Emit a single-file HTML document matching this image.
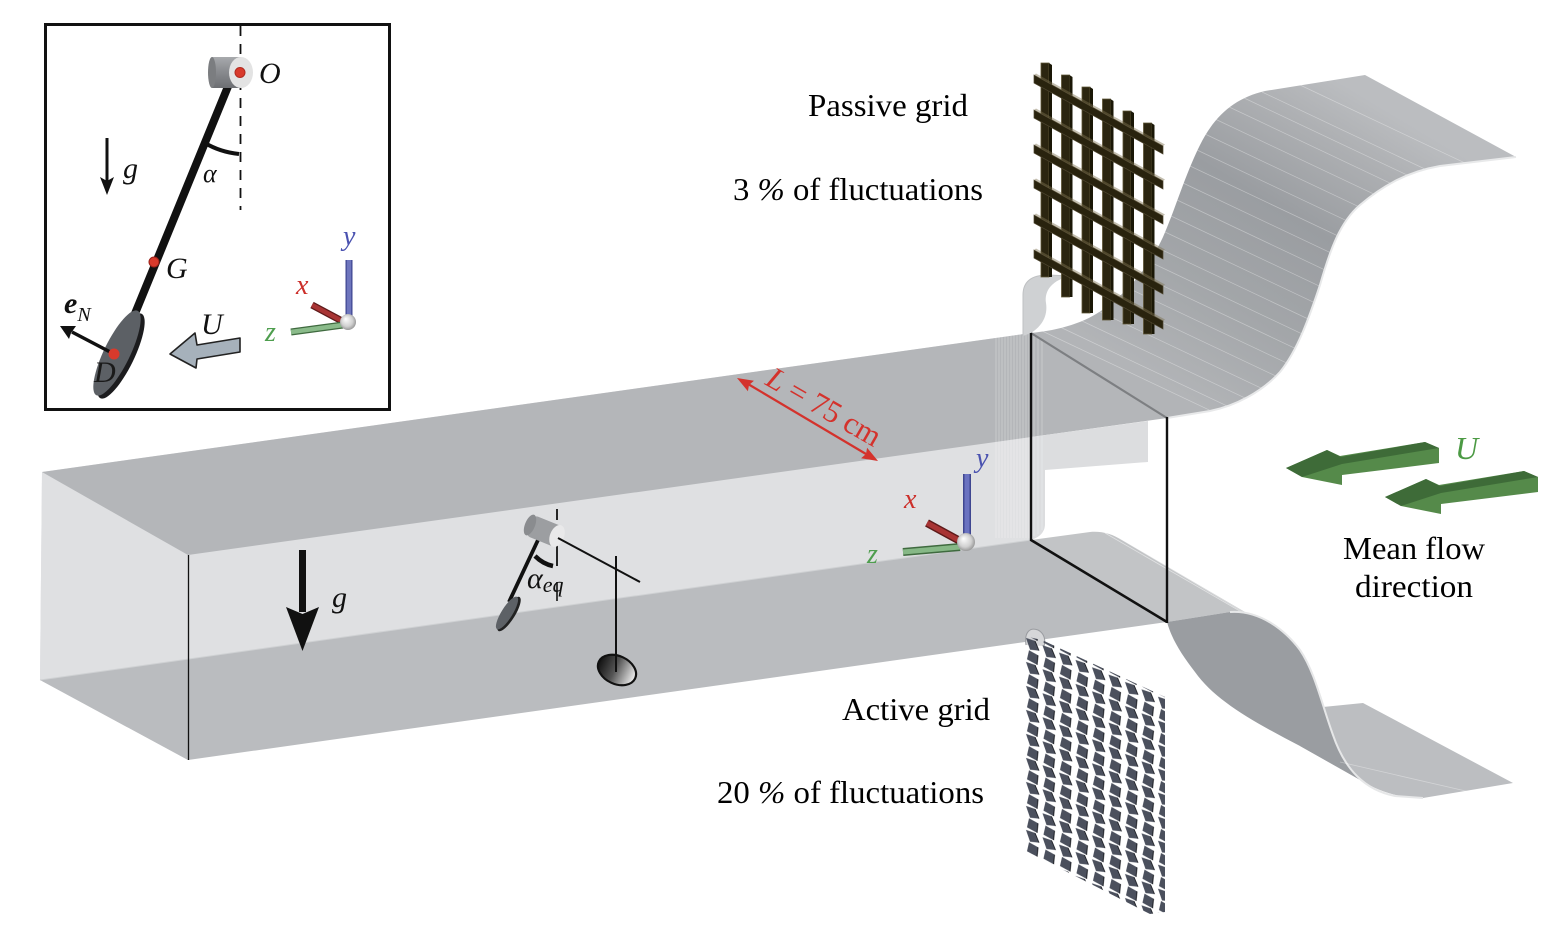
<!DOCTYPE html>
<html><head><meta charset="utf-8">
<style>
html,body{margin:0;padding:0;background:#fff;}
svg{display:block;}
text{font-family:"Liberation Serif",serif;}
.it{font-style:italic;}
</style></head><body>
<svg width="1563" height="944" viewBox="0 0 1563 944" xmlns="http://www.w3.org/2000/svg">
<defs>
<linearGradient id="sheetTop" gradientUnits="userSpaceOnUse" x1="1190" y1="400" x2="1370" y2="100">
<stop offset="0" stop-color="#b2b4b7"/>
<stop offset="0.3" stop-color="#a3a6a9"/>
<stop offset="0.6" stop-color="#9a9da1"/>
<stop offset="0.85" stop-color="#aeb0b3"/>
<stop offset="1" stop-color="#bbbdc0"/>
</linearGradient>
<radialGradient id="sph" cx="0.5" cy="0.5" r="0.6" fx="0.35" fy="0.3">
<stop offset="0" stop-color="#ffffff"/>
<stop offset="0.6" stop-color="#d0d0d0"/>
<stop offset="1" stop-color="#808080"/>
</radialGradient>
<linearGradient id="diskG" x1="0" y1="0" x2="1" y2="0">
<stop offset="0" stop-color="#111"/>
<stop offset="0.45" stop-color="#555"/>
<stop offset="1" stop-color="#f2f2f2"/>
</linearGradient>
<linearGradient id="cylG" x1="0" y1="0" x2="0" y2="1">
<stop offset="0" stop-color="#a8aaad"/>
<stop offset="0.4" stop-color="#8d8f93"/>
<stop offset="1" stop-color="#6c6e72"/>
</linearGradient>
<clipPath id="sheetClip">
<path d="M1031,333 C1060,330 1085,323 1105,308 C1130,290 1150,265 1163,237 C1175,210 1185,175 1200,145 C1215,115 1235,98 1265,91 L1365,75 L1516,157 L1440,166 C1405,172 1380,188 1360,205 C1340,222 1330,250 1320,285 C1310,315 1298,350 1280,372 C1262,392 1235,406 1210,411 L1167,418 Z"/>
</clipPath>
<pattern id="active" patternUnits="userSpaceOnUse" width="16.5" height="24" patternTransform="translate(1024,636) skewY(24)">
<polygon points="2,1 11,0 15,8 6,11" fill="#4b505d"/>
<polygon points="5,12 14,13 13,23 3,22" fill="#4b505d"/>
<line x1="11" y1="0" x2="15" y2="8" stroke="#1c1e24" stroke-width="1"/>
<line x1="14" y1="13" x2="13" y2="23" stroke="#1c1e24" stroke-width="1"/>
</pattern>
</defs>

<!-- ===== Main test section ===== -->
<polygon points="42,472 1031,333 1031,540 40,680" fill="#dfe0e2"/>
<polygon points="42,472 188,555 188,760 40,680" fill="#dfe0e2"/>
<polygon points="40,680 1031,540 1167,622 188,760" fill="#babcbf"/>
<line x1="40" y1="680" x2="1031" y2="540" stroke="#cfd1d3" stroke-width="1"/>
<polygon points="42,472 1031,333 1167,418 188,555" fill="#b4b6b9"/>
<line x1="188.5" y1="555" x2="188.5" y2="760" stroke="#111" stroke-width="1.3"/>

<path d="M1031,437 L1148,421 L1148,462 L1045,470 L1045,524 C1045,532 1040,537 1031,540 Z" fill="#dcdddf"/>
<g stroke="#ffffff" stroke-opacity="0.35" stroke-width="0.8">
<line x1="996" y1="338" x2="996" y2="538"/><line x1="999" y1="337" x2="999" y2="538"/>
<line x1="1002" y1="337" x2="1002" y2="538"/><line x1="1005" y1="336" x2="1005" y2="538"/>
<line x1="1008" y1="336" x2="1008" y2="538"/><line x1="1011" y1="335" x2="1011" y2="538"/>
<line x1="1014" y1="335" x2="1014" y2="538"/><line x1="1017" y1="335" x2="1017" y2="538"/>
<line x1="1020" y1="334" x2="1020" y2="538"/><line x1="1023" y1="334" x2="1023" y2="538"/>
<line x1="1026" y1="334" x2="1026" y2="538"/><line x1="1029" y1="333" x2="1029" y2="538"/>
<line x1="1034" y1="335" x2="1034" y2="536"/><line x1="1038" y1="336" x2="1038" y2="534"/>
<line x1="1042" y1="337" x2="1042" y2="530"/>
</g>

<path d="M1023,336 L1023,295 C1023,281 1032,275 1048,275 L1070,276 C1053,280 1044,290 1046,303 C1048,316 1042,326 1031,333 Z" fill="#cfd1d3"/>
<path d="M1023,336 L1023,295 C1023,281 1032,275 1048,275 L1070,276" fill="none" stroke="#bfc1c3" stroke-width="1"/>

<!-- ===== Top contraction sheet ===== -->
<path d="M1031,333 C1060,330 1085,323 1105,308 C1130,290 1150,265 1163,237 C1175,210 1185,175 1200,145 C1215,115 1235,98 1265,91 L1365,75 L1516,157 L1440,166 C1405,172 1380,188 1360,205 C1340,222 1330,250 1320,285 C1310,315 1298,350 1280,372 C1262,392 1235,406 1210,411 L1167,418 Z" fill="url(#sheetTop)"/>
<g clip-path="url(#sheetClip)" stroke="#ffffff" stroke-opacity="0.35" stroke-width="0.7">
<line x1="1040" y1="330" x2="1260" y2="434"/>
<line x1="1060" y1="327" x2="1280" y2="431"/>
<line x1="1080" y1="320" x2="1300" y2="424"/>
<line x1="1098" y1="311" x2="1318" y2="415"/>
<line x1="1115" y1="300" x2="1335" y2="404"/>
<line x1="1128" y1="288" x2="1348" y2="392"/>
<line x1="1140" y1="275" x2="1360" y2="379"/>
<line x1="1150" y1="262" x2="1370" y2="366"/>
<line x1="1158" y1="248" x2="1378" y2="352"/>
<line x1="1165" y1="232" x2="1385" y2="336"/>
<line x1="1171" y1="216" x2="1391" y2="320"/>
<line x1="1177" y1="200" x2="1397" y2="304"/>
<line x1="1183" y1="183" x2="1403" y2="287"/>
<line x1="1190" y1="166" x2="1410" y2="270"/>
<line x1="1197" y1="150" x2="1417" y2="254"/>
<line x1="1205" y1="134" x2="1425" y2="238"/>
<line x1="1215" y1="119" x2="1435" y2="223"/>
<line x1="1227" y1="106" x2="1447" y2="210"/>
<line x1="1242" y1="97" x2="1462" y2="201"/>
<line x1="1262" y1="92" x2="1482" y2="196"/>
<line x1="1300" y1="85" x2="1520" y2="189"/>
</g>
<path d="M1167,418 L1210,411 C1235,406 1262,392 1280,372 C1298,350 1310,315 1320,285 C1330,250 1340,222 1360,205 C1380,188 1405,172 1440,166 L1516,157" fill="none" stroke="#e8e9ea" stroke-width="2"/>
<line x1="1031" y1="333" x2="1167" y2="418" stroke="#7d7f82" stroke-width="2.2"/>

<!-- ===== Bottom contraction sheet ===== -->
<path d="M1031,540 L1090,532 C1102,531 1112,534 1122,540 L1262,622 L1230,612 L1167,622 Z" fill="#c2c4c6"/>
<line x1="1105" y1="533" x2="1245" y2="614" stroke="#ffffff" stroke-opacity="0.5" stroke-width="0.8"/>
<line x1="1112" y1="534" x2="1252" y2="617" stroke="#ffffff" stroke-opacity="0.4" stroke-width="0.8"/>
<path d="M1323,707 L1363,703 L1513,783 L1423,798 C1400,798 1380,792 1362,781 L1300,746 C1320,735 1325,720 1323,707 Z" fill="#bcbec1"/>
<path d="M1167,622 L1230,612 C1260,610 1285,630 1300,650 C1315,672 1322,705 1333,735 C1340,755 1350,770 1362,781 L1300,746 C1250,720 1215,700 1195,672 C1182,655 1172,640 1167,622 Z" fill="#9a9da1"/>
<path d="M1230,612 C1260,610 1285,630 1300,650 C1315,672 1322,705 1333,735 C1345,770 1365,790 1395,796 L1423,798" fill="none" stroke="#e6e7e8" stroke-width="2"/>
<line x1="1340" y1="762" x2="1470" y2="792" stroke="#ffffff" stroke-opacity="0.35" stroke-width="0.8"/>

<!-- ===== Frame ===== -->
<line x1="1031" y1="333" x2="1031" y2="541" stroke="#111" stroke-width="2.4"/>
<line x1="1031" y1="540" x2="1167" y2="622" stroke="#111" stroke-width="2.6"/>
<line x1="1167" y1="417" x2="1167" y2="623" stroke="#111" stroke-width="2.4"/>

<!-- ===== Passive grid ===== -->
<g stroke="#5e5536" stroke-width="0.8">
<polygon points="1041,63 1049,63 1049,277 1041,277" fill="#2b2510"/>
<polygon points="1061.5,75 1069.5,75 1069.5,297 1061.5,297" fill="#2b2510"/>
<polygon points="1082,87 1090,87 1090,313 1082,313" fill="#2b2510"/>
<polygon points="1102.5,99 1110.5,99 1110.5,320 1102.5,320" fill="#2b2510"/>
<polygon points="1123,111 1131,111 1131,324 1123,324" fill="#2b2510"/>
<polygon points="1143.5,123 1151.5,123 1151.5,334 1143.5,334" fill="#2b2510"/>
</g>
<g fill="#1a1706">
<polygon points="1049,63 1052,65 1052,277 1049,277"/>
<polygon points="1069.5,75 1072.5,77 1072.5,297 1069.5,297"/>
<polygon points="1090,87 1093,89 1093,313 1090,313"/>
<polygon points="1110.5,99 1113.5,101 1113.5,320 1110.5,320"/>
<polygon points="1131,111 1134,113 1134,324 1131,324"/>
<polygon points="1151.5,123 1154.5,125 1154.5,334 1151.5,334"/>
</g>
<g stroke="#4e4630" stroke-width="0.7" fill="#29230e">
<polygon points="1034,75 1163,146 1163,154 1034,83"/>
<polygon points="1034,110 1163,181 1163,189 1034,118"/>
<polygon points="1034,145 1163,216 1163,224 1034,153"/>
<polygon points="1034,180 1163,251 1163,259 1034,188"/>
<polygon points="1034,215 1163,286 1163,294 1034,223"/>
<polygon points="1034,250 1163,321 1163,329 1034,258"/>
</g>
<g fill="#7c7050" fill-opacity="0.45">
<polygon points="1034,75 1036,73.5 1165,144.5 1163,146"/>
<polygon points="1034,110 1036,108.5 1165,179.5 1163,181"/>
<polygon points="1034,145 1036,143.5 1165,214.5 1163,216"/>
<polygon points="1034,180 1036,178.5 1165,249.5 1163,251"/>
<polygon points="1034,215 1036,213.5 1165,284.5 1163,286"/>
<polygon points="1034,250 1036,248.5 1165,319.5 1163,321"/>
</g>

<!-- ===== Active grid ===== -->
<path d="M1026,645 C1024,632 1030,627 1038,630 C1044,633 1046,640 1044,646" fill="#d6d7d9" stroke="#9a9ca0" stroke-width="1"/>
<polygon points="1024,636 1042,640 1165,697 1165,912 1150,914 1024,850" fill="url(#active)"/>

<!-- ===== Green flow arrows ===== -->
<g>
<polygon points="1286,468 1327,450 1340,456 1425,442 1439,448 1439,463 1342,475 1342,485 1302,477" fill="#558a4a"/>
<polygon points="1286,468 1327,450 1341,457 1425,442 1439,448 1342,464 1302,477" fill="#3e6b38"/>
</g>
<g transform="translate(99,29)">
<polygon points="1286,468 1327,450 1340,456 1425,442 1439,448 1439,463 1342,475 1342,485 1302,477" fill="#558a4a"/>
<polygon points="1286,468 1327,450 1341,457 1425,442 1439,448 1342,464 1302,477" fill="#3e6b38"/>
</g>
<text x="1455" y="459" font-size="32" class="it" fill="#4c9a44">U</text>

<!-- ===== Texts ===== -->
<text x="808" y="116" font-size="32" fill="#000" textLength="160" lengthAdjust="spacingAndGlyphs">Passive grid</text>
<text x="733" y="200" font-size="32" fill="#000" textLength="250" lengthAdjust="spacingAndGlyphs">3 <tspan class="it">%</tspan> of fluctuations</text>
<text x="842" y="720" font-size="32" fill="#000" textLength="148" lengthAdjust="spacingAndGlyphs">Active grid</text>
<text x="717" y="803" font-size="32" fill="#000" textLength="267" lengthAdjust="spacingAndGlyphs">20 <tspan class="it">%</tspan> of fluctuations</text>
<text x="1343" y="559" font-size="32" fill="#000" textLength="142" lengthAdjust="spacingAndGlyphs">Mean flow</text>
<text x="1355" y="597" font-size="32" fill="#000" textLength="118" lengthAdjust="spacingAndGlyphs">direction</text>

<!-- ===== L = 75 cm ===== -->
<line x1="748" y1="384" x2="866" y2="454" stroke="#d4322c" stroke-width="2.2"/>
<polygon points="737,378 753.9,380.8 749,385 747.9,391.2" fill="#d4322c"/>
<polygon points="878,461 861.1,458.2 866,454 867.1,447.8" fill="#d4322c"/>
<text x="764" y="384" font-size="31" fill="#d4322c" transform="rotate(30 764 384)" class="it">L<tspan font-style="normal"> = 75 cm</tspan></text>

<!-- ===== Main axes ===== -->
<line x1="967" y1="474" x2="967" y2="538" stroke="#3f4690" stroke-width="8"/>
<line x1="967" y1="474" x2="967" y2="538" stroke="#6a72c0" stroke-width="5"/>
<line x1="927" y1="523" x2="960" y2="541" stroke="#5e1a1a" stroke-width="8"/>
<line x1="927" y1="523" x2="960" y2="541" stroke="#a83434" stroke-width="5"/>
<line x1="903" y1="552" x2="960" y2="547" stroke="#3f6a3f" stroke-width="8"/>
<line x1="903" y1="552" x2="960" y2="547" stroke="#86b886" stroke-width="5"/>
<circle cx="966" cy="542" r="9" fill="url(#sph)"/>
<text x="976" y="467" font-size="28" class="it" fill="#4a52b0">y</text>
<text x="904" y="508" font-size="28" class="it" fill="#cc2f2a">x</text>
<text x="867" y="563" font-size="28" class="it" fill="#4e9e4e">z</text>

<!-- ===== big g arrow ===== -->
<rect x="299" y="550" width="7" height="62" fill="#111"/>
<polygon points="286,607 302.5,651 319,607 302.5,614" fill="#111"/>
<text x="332" y="607" font-size="30" class="it" fill="#111">g</text>

<!-- ===== small pendulum ===== -->
<line x1="557" y1="509" x2="557" y2="520" stroke="#111" stroke-width="1.8"/>
<line x1="557" y1="545" x2="557" y2="566" stroke="#111" stroke-width="1.8"/>
<line x1="557" y1="582" x2="557" y2="601" stroke="#111" stroke-width="1.6"/>
<line x1="538" y1="540" x2="509" y2="602" stroke="#111" stroke-width="3.8"/>
<ellipse cx="509" cy="614" rx="6" ry="20" transform="rotate(32 509 614)" fill="#222"/>
<ellipse cx="507" cy="613" rx="5.5" ry="19" transform="rotate(32 507 613)" fill="#5d6166"/>
<rect x="529" y="520" width="30" height="22" rx="4" transform="rotate(22 544 531)" fill="#9c9ea1"/>
<ellipse cx="530" cy="525" rx="5" ry="11" transform="rotate(22 530 525)" fill="#8a8c8f"/>
<ellipse cx="557" cy="536" rx="7" ry="11.5" transform="rotate(22 557 536)" fill="#e9e9ea"/>
<path d="M535,556 Q543,564 553,566" fill="none" stroke="#111" stroke-width="4.5"/>
<line x1="558" y1="538" x2="640" y2="582" stroke="#111" stroke-width="2"/>
<line x1="616" y1="556" x2="616" y2="672" stroke="#111" stroke-width="2"/>
<ellipse cx="617" cy="670" rx="20" ry="14" transform="rotate(25 617 670)" fill="url(#diskG)" stroke="#111" stroke-width="2.2"/>
<line x1="616" y1="656" x2="616" y2="672" stroke="#111" stroke-width="2"/>
<text x="527" y="588" font-size="30" class="it" fill="#111">α<tspan font-size="22" dy="4">eq</tspan></text>

<!-- ===== Inset ===== -->
<rect x="45.5" y="24.5" width="344" height="385" fill="#fff" stroke="#111" stroke-width="3"/>
<line x1="240.5" y1="26" x2="240.5" y2="210" stroke="#111" stroke-width="1.8" stroke-dasharray="10,8"/>
<line x1="229" y1="84" x2="134" y2="316" stroke="#111" stroke-width="8"/>
<rect x="212" y="57" width="29" height="31" fill="url(#cylG)"/>
<ellipse cx="212" cy="72.5" rx="4" ry="15.5" fill="#7b7d80"/>
<ellipse cx="241" cy="72.5" rx="12" ry="15.5" fill="#e3e3e3"/>
<circle cx="240" cy="72.5" r="5" fill="#d83a2c" stroke="#b02a20" stroke-width="1"/>
<text x="259" y="83" font-size="30" class="it" fill="#111">O</text>
<path d="M205,143 Q220,152 239,154" fill="none" stroke="#111" stroke-width="4"/>
<text x="203" y="182" font-size="26" class="it" fill="#111">α</text>
<line x1="107" y1="138" x2="107" y2="182" stroke="#111" stroke-width="3"/>
<polygon points="100,177 107,195 114,177 107,181" fill="#111"/>
<text x="123" y="178" font-size="30" class="it" fill="#111">g</text>
<circle cx="154" cy="262" r="5" fill="#d83a2c" stroke="#9a2018" stroke-width="1"/>
<text x="166" y="278" font-size="30" class="it" fill="#111">G</text>
<ellipse cx="121" cy="356" rx="13" ry="47" transform="rotate(26 121 356)" fill="#1c1c1e"/>
<ellipse cx="117" cy="353" rx="13" ry="47" transform="rotate(26 117 353)" fill="#5c6065"/>
<line x1="114" y1="354" x2="72" y2="332" stroke="#111" stroke-width="3.5"/>
<polygon points="60,326 76,326 71,333 69,339" fill="#111"/>
<circle cx="114" cy="354" r="5.5" fill="#d83a2c"/>
<text x="64" y="313" font-size="30" font-weight="bold" class="it" fill="#111">e<tspan font-size="20" font-weight="normal" dy="8">N</tspan></text>
<text x="94" y="382" font-size="30" class="it" fill="#1a1a1a">D</text>
<polygon points="170,354 195,333 197,345 240,338 240,352 197,359 196,368" fill="#a6b1bb" stroke="#222" stroke-width="1.6" stroke-linejoin="round"/>
<text x="201" y="334" font-size="30" class="it" fill="#111">U</text>
<line x1="349" y1="260" x2="349" y2="319" stroke="#3f4690" stroke-width="7"/>
<line x1="349" y1="260" x2="349" y2="319" stroke="#6e75bd" stroke-width="4.5"/>
<line x1="312" y1="305" x2="342" y2="321" stroke="#5e1a1a" stroke-width="7"/>
<line x1="312" y1="305" x2="342" y2="321" stroke="#a83434" stroke-width="4.5"/>
<line x1="291" y1="332" x2="343" y2="325" stroke="#3f6a3f" stroke-width="7"/>
<line x1="291" y1="332" x2="343" y2="325" stroke="#8abb8a" stroke-width="4.5"/>
<circle cx="348" cy="322" r="8" fill="url(#sph)"/>
<text x="343" y="245" font-size="28" class="it" fill="#4a52b0">y</text>
<text x="296" y="294" font-size="28" class="it" fill="#cc2f2a">x</text>
<text x="265" y="341" font-size="28" class="it" fill="#4e9e4e">z</text>
</svg>
</body></html>
